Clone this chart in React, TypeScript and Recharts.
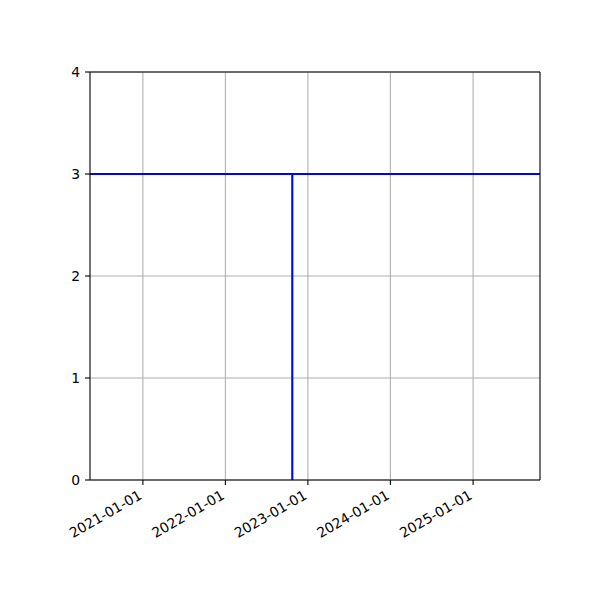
import { CartesianGrid, Line, LineChart, XAxis, YAxis } from "recharts";

// axis limits and tick positions
const X_LIMITS = ["2020-05-12", "2025-10-24"];
const YEAR_TICKS = ["2021-01-01", "2022-01-01", "2023-01-01", "2024-01-01", "2025-01-01"];
const Y_TICKS = [0, 1, 2, 3, 4];

// horizontal level across the whole range
const LEVEL_DATES = ["2020-05-12", "2025-10-24"];
const LEVEL_VALUES = [3, 3];

// vertical drop at one date
const DROP_DATES = ["2022-10-24", "2022-10-24"];
const DROP_VALUES = [0, 3];

const FONT = "'DejaVu Sans', sans-serif";
const BLUE = "#0000ff";
const GRID = "#b0b0b0";
const SPINE = { stroke: "#000", strokeWidth: 1.1 };

const ts = (d: string) => Date.parse(d + "T00:00:00Z");

const levelData = LEVEL_DATES.map((d, i) => ({ t: ts(d), v: LEVEL_VALUES[i] }));
const dropData = DROP_DATES.map((d, i) => ({ t: ts(d), v: DROP_VALUES[i] }));

function fmtDate(v: number) {
  return new Date(v).toISOString().slice(0, 10);
}

function DateTick({ x, y, payload }: any) {
  const ax = x;
  const ay = y + 13;
  return (
    <text
      x={ax}
      y={ay}
      transform={`rotate(-30 ${ax} ${ay})`}
      textAnchor="end"
      fontFamily={FONT}
      fontSize={13.9}
      fill="#000"
    >
      {fmtDate(payload.value)}
    </text>
  );
}

export default function App() {
  return (
    <div style={{ position: "absolute", left: 0, top: 0, width: 600, height: 600, background: "#fff" }}>
      <LineChart
        width={600}
        height={600}
        margin={{ top: 71, right: 59, bottom: 90, left: 50 }}
      >
        <CartesianGrid stroke={GRID} strokeWidth={1.1} horizontalValues={Y_TICKS} verticalValues={YEAR_TICKS.map(ts)} />
        <XAxis
          dataKey="t"
          type="number"
          domain={X_LIMITS.map(ts)}
          ticks={YEAR_TICKS.map(ts)}
          allowDataOverflow
          height={30}
          tickSize={5}
          tickMargin={0}
          tickLine={SPINE}
          axisLine={SPINE}
          tick={<DateTick />}
          interval={0}
        />
        <XAxis
          xAxisId="top"
          orientation="top"
          dataKey="t"
          type="number"
          domain={X_LIMITS.map(ts)}
          allowDataOverflow
          height={1}
          tick={false}
          tickLine={false}
          axisLine={SPINE}
        />
        <YAxis
          type="number"
          domain={[0, 4]}
          ticks={Y_TICKS}
          width={40}
          tickSize={5}
          tickMargin={5}
          tickLine={SPINE}
          axisLine={SPINE}
          tick={{ fill: "#000", fontFamily: FONT, fontSize: 13.9 }}
          interval={0}
        />
        <YAxis
          yAxisId="right"
          orientation="right"
          type="number"
          domain={[0, 4]}
          width={1}
          tick={false}
          tickLine={false}
          axisLine={SPINE}
        />
        <Line
          data={levelData}
          dataKey="v"
          stroke={BLUE}
          strokeWidth={2.1}
          dot={false}
          isAnimationActive={false}
        />
        <Line
          data={dropData}
          dataKey="v"
          stroke={BLUE}
          strokeWidth={2.1}
          dot={false}
          isAnimationActive={false}
        />
      </LineChart>
    </div>
  );
}
